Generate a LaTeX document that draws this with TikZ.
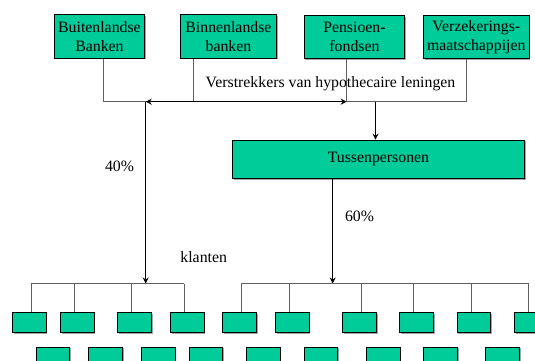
\documentclass[tikz,border=0pt]{standalone}
\usepackage{fontspec}
\setmainfont{Liberation Serif}
\usetikzlibrary{arrows.meta,shadows}
\definecolor{boxgreen}{RGB}{0,204,153}
\definecolor{linegray}{RGB}{95,95,95}
\begin{document}
\begin{tikzpicture}[x=1pt,y=-1pt,
  txt/.style={font=\fontsize{15.8}{19}\selectfont, inner sep=0pt},
  gbox/.style={draw=black, line width=0.9pt, fill=boxgreen, anchor=north west, inner sep=0pt, align=center,
    font=\fontsize{15.8}{19}\selectfont,
    drop shadow={shadow xshift=1.2pt, shadow yshift=-1.2pt, fill=gray, opacity=0.7}},
  conn/.style={draw=linegray, line width=0.9pt},
  arr/.style={draw=black, line width=1.4pt, -{Stealth[length=6pt,width=6pt]}},
  darr/.style={draw=black, line width=1.2pt, {Stealth[length=6pt,width=6pt]}-{Stealth[length=6pt,width=6pt]}},
]
\useasboundingbox (0,0) rectangle (535,361);
\clip (0,0) rectangle (535,361);

% top boxes
\node[gbox, minimum width=90.6pt, minimum height=43.4pt] (b1) at (53.7,14.3) {Buitenlandse\\Banken};
\node[gbox, minimum width=96pt, minimum height=43.4pt] (b2) at (180,14.3) {Binnenlandse\\banken};
\node[gbox, minimum width=100.6pt, minimum height=43.3pt] (b3) at (303.7,15) {Pensioen-\\fondsen};
\node[gbox, minimum width=105.7pt, minimum height=43.3pt] (b4) at (423,15) {Verzekerings-\\maatschappijen};

% junction coordinates
\coordinate (hL) at (103,101.7);
\coordinate (j2) at (193.7,101.7);
\coordinate (j3) at (346.7,101.7);
\coordinate (hR) at (466.7,101.7);
\coordinate (aL) at (145.7,101.7);
\coordinate (aR) at (375.5,101.7);

\draw[conn] (b1.south -| hL) -- (hL);
\draw[conn] (b2.south -| j2) -- (j2);
\draw[conn] (b3.south -| j3) -- (j3);
\draw[conn] (b4.south -| hR) -- (hR);
\draw[conn] (hL) -- (hR);

\node[txt] (lbl) at (330.5,84) {Verstrekkers van hypothecaire leningen};

\draw[darr] (aL) -- (j3);

% Tussenpersonen
\node[gbox, minimum width=292pt, minimum height=38.3pt] (tp) at (232,139.7) {Tussenpersonen};
\draw[arr] (aR) -- (aR |- tp.north);

% buses
\coordinate (busL1) at (31,283.5);
\coordinate (busL2) at (184.3,283.5);
\coordinate (busR1) at (241.3,283.5);
\coordinate (busR2) at (528.7,283.5);
\coordinate (busLa) at (145.7,283.5);
\coordinate (busRa) at (332.7,283.5);
\draw[conn] (busL1) -- (busL2);
\draw[conn] (busR1) -- (busR2);

\draw[arr] (aL) -- (busLa);
\draw[arr] (tp.south -| busRa) -- (busRa);

\node[txt] (p40) at (119.5,166) {40\%};
\node[txt] (p60) at (359.5,216.5) {60\%};
\node[txt] (kl) at (203.7,256.7) {klanten};

% row 1 boxes and stubs
\foreach \bx/\sx [count=\i] in {12/31, 60/74, 117.3/131.7, 170/184.3, 222.3/241.3, 275/289.3, 342.3/361.3, 399.3/413.7, 456.7/471.3, 514.3/528.7} {
  \node[gbox, minimum width=33.7pt, minimum height=19.7pt] (r\i) at (\bx,312.3) {};
  \coordinate (s\i) at (\sx,283.5);
  \draw[conn] (s\i) -- (s\i |- r\i.north);
}
% row 2 boxes
\foreach \bx [count=\i] in {35.7, 88.3, 141, 188.7, 246, 303.7, 366, 423.3, 485.3} {
  \node[gbox, minimum width=33.7pt, minimum height=19.7pt] (q\i) at (\bx,346.5) {};
}
\end{tikzpicture}
\end{document}
